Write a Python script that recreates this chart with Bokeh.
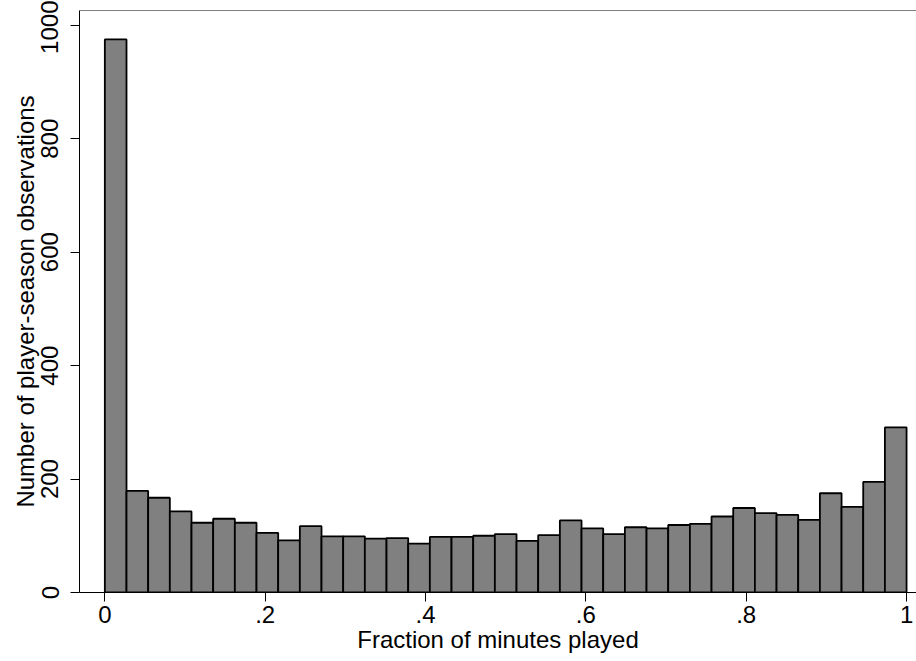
import math
from bokeh.plotting import figure
from bokeh.models import FixedTicker, Range1d, Span
from bokeh.embed import file_html
from bokeh.resources import INLINE

# Histogram: 37 equal-width bins over [0, 1]
n_bins = 37
counts = [975, 179, 167, 143, 123, 130, 123, 105, 92, 117,
          99, 99, 95, 96, 86, 98, 98, 100, 103, 91,
          101, 127, 113, 103, 115, 113, 119, 121, 134, 149,
          140, 137, 128, 175, 151, 195, 291]
x_ticks = [0, 0.2, 0.4, 0.6, 0.8, 1.0]
x_tick_labels = ["0", ".2", ".4", ".6", ".8", "1"]
y_ticks = [0, 200, 400, 600, 800, 1000]

edges = [i / n_bins for i in range(n_bins + 1)]
lefts = edges[:-1]
rights = edges[1:]

FONT = "Liberation Sans"

p = figure(width=916, height=661, output_backend="svg", toolbar_location=None,
           x_range=Range1d(-0.0316, 1.0124), y_range=Range1d(0, 1026),
           min_border_left=79, min_border_right=0, min_border_top=10,
           min_border_bottom=69)
p.quad(left=lefts, right=rights, bottom=0, top=counts,
       fill_color="#808080", line_color="black", line_width=1.8)

p.grid.visible = False
p.outline_line_color = None
p.background_fill_color = "white"
p.border_fill_color = "white"
p.add_layout(Span(location=p.y_range.end, dimension="width",
                  line_color="black", line_width=1))

p.xaxis.ticker = FixedTicker(ticks=x_ticks)
p.xaxis.major_label_overrides = {t: l for t, l in zip(x_ticks, x_tick_labels)}
p.yaxis.ticker = FixedTicker(ticks=y_ticks)
p.yaxis.major_label_orientation = "parallel"

for ax in (p.xaxis[0], p.yaxis[0]):
    ax.minor_tick_line_color = None
    ax.major_tick_in = 0
    ax.major_tick_out = 9
    ax.major_tick_line_color = "black"
    ax.axis_line_color = "black"
    ax.major_label_text_font = FONT
    ax.major_label_text_font_size = "24px"
    ax.major_label_text_color = "black"
    ax.axis_label_text_font = FONT
    ax.axis_label_text_font_size = "24px"
    ax.axis_label_text_font_style = "normal"
    ax.axis_label_text_color = "black"

p.xaxis.axis_label = "Fraction of minutes played"
p.yaxis.axis_label = "Number of player-season observations"
p.xaxis.major_label_standoff = 4
p.xaxis.axis_label_standoff = 0
p.yaxis.major_label_standoff = 12
p.yaxis.axis_label_standoff = 0

open("out.html", "w").write(file_html(p, INLINE))
